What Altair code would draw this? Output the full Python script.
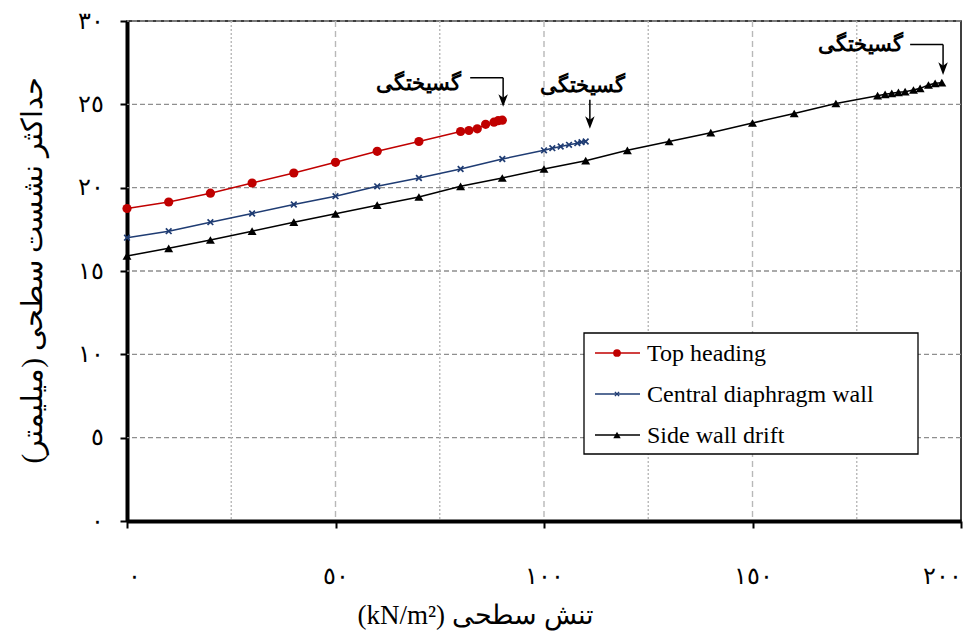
import altair as alt
import pandas as pd

# ---------------- data ----------------
series_names = ["Top heading", "Central diaphragm wall", "Side wall drift"]
series_colors = ["#C00000", "#1F3C73", "#000000"]

top_x = [0, 10, 20, 30, 40, 50, 60, 70, 80, 82, 84, 86, 88, 89, 90]
top_y = [18.75, 19.14, 19.67, 20.28, 20.88, 21.52, 22.18, 22.77, 23.37, 23.43, 23.53, 23.80, 23.93, 24.02, 24.05]

central_x = [0, 10, 20, 30, 40, 50, 60, 70, 80, 90, 100, 102, 104, 106, 108, 109, 110]
central_y = [17.00, 17.39, 17.93, 18.45, 18.99, 19.49, 20.08, 20.58, 21.12, 21.72, 22.24, 22.37, 22.47, 22.57, 22.67, 22.73, 22.77]

side_x = [0, 10, 20, 30, 40, 50, 60, 70, 80, 90, 100, 110, 120, 130, 140, 150, 160, 170,
          180, 181.8, 183.4, 185, 186.6, 188.6, 190.2, 192.2, 193.8, 195.4]
side_y = [15.90, 16.36, 16.86, 17.39, 17.93, 18.43, 18.95, 19.44, 20.08, 20.58, 21.12, 21.62, 22.24, 22.77,
          23.30, 23.88, 24.45, 25.05, 25.52, 25.60, 25.66, 25.72, 25.76, 25.86, 25.96, 26.16, 26.26, 26.30]

x_ticks = [0, 50, 100, 150, 200]
x_tick_labels = ["٠", "٥٠", "١٠٠", "١٥٠", "٢٠٠"]
y_ticks = [0, 5, 10, 15, 20, 25, 30]
y_tick_labels = ["٠", "٥", "١٠", "١٥", "٢٠", "٢٥", "٣٠"]
x_major_grid = [50, 100, 150]
x_minor_grid = [25, 75, 125, 175]
y_grid = [5, 10, 15, 20, 25, 30]

x_title = "(kN/m²) تنش سطحی"
y_title = "\u202Bحداکثر نشست سطحی (میلیمتر)\u202C"

# annotations ("rupture")
ann_text = ["گسیختگی", "گسیختگی", "گسیختگی"]
ann_x = [70.0, 109.2, 175.8]
ann_y = [26.24, 26.10, 28.57]
# horizontal leader lines
lead_x1 = [82.3, 187.8]
lead_x2 = [90.2, 195.7]
lead_y = [26.60, 28.59]
# vertical arrows
arrow_x = [90.2, 111.0, 195.7]
arrow_top = [26.60, 25.28, 28.59]
arrow_tip = [24.87, 23.55, 26.78]

# ---------------- tables ----------------
rows = []
for name, xs, ys in zip(series_names, [top_x, central_x, side_x], [top_y, central_y, side_y]):
    for xv, yv in zip(xs, ys):
        rows.append({"series": name, "x": xv, "y": yv})
df = pd.DataFrame(rows)

xs_scale = alt.Scale(domain=[0, 200], nice=False)
ys_scale = alt.Scale(domain=[0, 30], nice=False)
color_scale = alt.Scale(domain=series_names, range=series_colors)

FONT = "Liberation Serif"
TOP = 13
H = 500

x_axis = alt.Axis(
    values=x_ticks,
    labelExpr="[" + ",".join("'%s'" % l for l in x_tick_labels) + "][round(datum.value/50)]",
    grid=False, domainColor="black", domainWidth=4, tickColor="black", tickWidth=2, tickSize=7,
    labelPadding=36, labelFontSize=24, labelFont=FONT, labelColor="black",
    title=x_title, titleFont=FONT, titleFontSize=27, titleFontWeight="normal", titleColor="black",
    titleX=348, titleY=94, titleAlign="center", titleBaseline="middle", titleAnchor="middle",
)
y_axis = alt.Axis(
    values=y_ticks,
    labelExpr="[" + ",".join("'%s'" % l for l in y_tick_labels) + "][round(datum.value/5)]",
    grid=False, domainColor="black", domainWidth=4, tickColor="black", tickWidth=2, tickSize=7,
    labelPadding=17, labelFontSize=24, labelFont=FONT, labelColor="black",
    title=y_title, titleFont=FONT, titleFontSize=29, titleFontWeight="normal", titleColor="black",
    titleAngle=270, titleX=-95, titleY=249, titleAlign="center", titleBaseline="middle", titleAnchor="middle",
)

def X(f):
    return alt.X(f, scale=xs_scale, axis=x_axis)

def Y(f):
    return alt.Y(f, scale=ys_scale, axis=y_axis)

# grid
ygrid = alt.Chart(pd.DataFrame({"v": y_grid})).mark_rule(
    color="#8f8f8f", strokeDash=[5, 3], strokeWidth=1.4
).encode(y=Y("v:Q"))
xmaj = alt.Chart(pd.DataFrame({"v": x_major_grid})).mark_rule(
    color="#b8b8b8", strokeDash=[6, 4], strokeWidth=1.4
).encode(x=X("v:Q"))
xmin = alt.Chart(pd.DataFrame({"v": x_minor_grid})).mark_rule(
    color="#b8b8b8", strokeDash=[2, 2], strokeWidth=1.4
).encode(x=X("v:Q"))

lines = alt.Chart(df).mark_line(strokeWidth=1.5).encode(
    x=X("x:Q"),
    y=Y("y:Q"),
    color=alt.Color("series:N", scale=color_scale, legend=None),
    order="x:Q",
)

XPATH = "M-1,-1L1,1M-1,1L1,-1"

def pts(name, shape, size, filled, sw=1.0):
    return alt.Chart(df).transform_filter(alt.datum.series == name).mark_point(
        shape=shape, size=size, filled=filled, strokeWidth=sw, opacity=1
    ).encode(
        x=X("x:Q"),
        y=Y("y:Q"),
        color=alt.Color("series:N", scale=color_scale, legend=None),
    )

p_top = pts(series_names[0], "circle", 85, True)
p_cen = pts(series_names[1], XPATH, 32, False, 1.7)
p_side = pts(series_names[2], "triangle-up", 80, True)

# annotations
ann_df = pd.DataFrame({"t": ann_text, "x": ann_x, "y": ann_y})
ann = alt.Chart(ann_df).mark_text(font=FONT, fontSize=21, fontWeight="bold", color="black", baseline="middle").encode(
    x=X("x:Q"), y=Y("y:Q"), text="t:N"
)
lead_df = pd.DataFrame({"x1": lead_x1, "x2": lead_x2, "y": lead_y})
lead = alt.Chart(lead_df).mark_rule(color="black", strokeWidth=1.5).encode(
    x=X("x1:Q"), x2="x2:Q", y=Y("y:Q")
)
arr_df = pd.DataFrame({"x": arrow_x, "y1": arrow_top, "y2": arrow_tip})
arr_df["yh"] = arr_df["y2"] + 0.36
arr_line = alt.Chart(arr_df).mark_rule(color="black", strokeWidth=1.5).encode(
    x=X("x:Q"), y=Y("y1:Q"), y2="yh:Q"
)
HEAD = "M0,1L-0.75,-1L0,-0.45L0.75,-1Z"
arr_head = alt.Chart(arr_df).mark_point(shape=HEAD, size=160, filled=True, color="black", opacity=1).encode(
    x=X("x:Q"), y=Y("yh:Q")
)

# manual legend (pixel positions relative to plot area)
one = pd.DataFrame({"a": [0]})
dy = 19 - (8 + TOP)  # keep legend where it is on the page
leg_box = alt.Chart(one).mark_rect(fill="white", stroke="black", strokeWidth=1.3).encode(
    x=alt.value(457), x2=alt.value(791), y=alt.value(314 + dy), y2=alt.value(435 + dy)
)
legend_layers = [leg_box]
leg_shapes = [("circle", 60, True, 1.0), (XPATH, 18, False, 1.4), ("triangle-up", 55, True, 1.0)]
for i, name in enumerate(series_names):
    yy = 334 + 41 * i + dy
    c = series_colors[i]
    legend_layers.append(alt.Chart(one).mark_rule(color=c, strokeWidth=1.5).encode(
        x=alt.value(468), x2=alt.value(513), y=alt.value(yy)))
    shp, sz, fl, sw = leg_shapes[i]
    legend_layers.append(alt.Chart(one).mark_point(shape=shp, size=sz, filled=fl, color=c, strokeWidth=sw, opacity=1).encode(
        x=alt.value(490), y=alt.value(yy)))
    legend_layers.append(alt.Chart(pd.DataFrame({"t": [name]})).mark_text(
        font=FONT, fontSize=24, color="black", align="left", baseline="middle").encode(
        x=alt.value(520), y=alt.value(yy + 1), text="t:N"))

chart = alt.layer(
    ygrid, xmaj, xmin, lines, p_top, p_cen, p_side, ann, lead, arr_line, arr_head, *legend_layers
).properties(
    width=834, height=H,
    autosize=alt.AutoSizeParams(type="none"),
    padding={"left": 119, "top": TOP, "right": 10, "bottom": 624 - TOP - H},
).configure(font=FONT).configure_view(stroke="black", strokeWidth=1.5)

chart.save("out.html", embed_options={"renderer": "svg", "actions": False})
